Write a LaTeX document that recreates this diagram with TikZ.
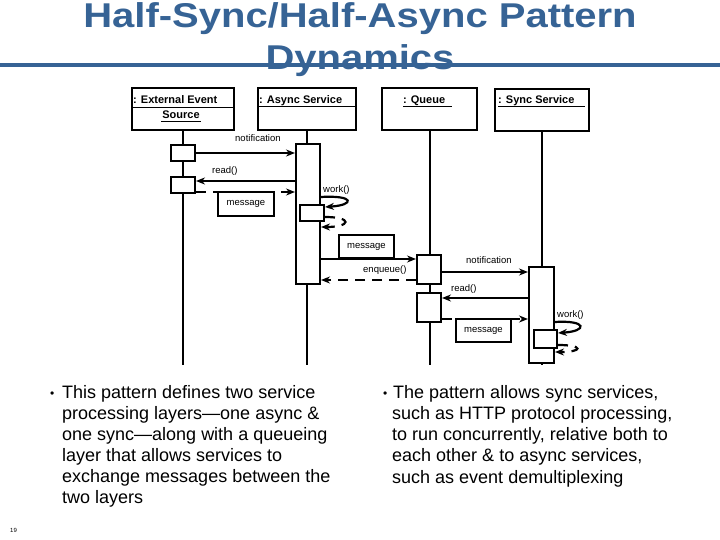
\documentclass[tikz,border=0pt]{standalone}
\usepackage{fontspec}
\setmainfont{Liberation Sans}
\usetikzlibrary{arrows.meta,calc}
\definecolor{titleblue}{RGB}{54,99,149}
\begin{document}
\begin{tikzpicture}[x=1pt,y=-1pt,
  titletxt/.style={font=\bfseries\fontsize{40}{42}\selectfont,text=titleblue,inner sep=0pt},
  objbox/.style={draw,line width=2.2pt,fill=white,inner sep=0pt},
  actbox/.style={draw,line width=2pt,fill=white,inner sep=0pt},
  notebox/.style={draw,line width=2pt,fill=white,inner sep=0pt,font=\fontsize{9.5}{10}\selectfont},
  life/.style={line width=2pt},
  msg/.style={line width=2.2pt,-{Stealth[length=9pt,width=7pt]}},
  ret/.style={msg,dash pattern=on 10pt off 7pt},
  lbl/.style={font=\fontsize{9.5}{10}\selectfont,inner sep=0pt,anchor=base west},
  objtxt/.style={font=\bfseries\fontsize{11}{12}\selectfont,inner sep=0pt},
  body/.style={font=\fontsize{18}{21.6}\selectfont,inner sep=0pt,anchor=base west},
  bul/.style={font=\fontsize{12}{14}\selectfont,inner sep=0pt,anchor=base west},
  uline/.style={line width=1.3pt}]
\useasboundingbox (0,0) rectangle (720,540);

% title
\coordinate (rl) at (0,65);
\coordinate (rr) at (720,65);
\draw[titleblue,line width=4pt] (rl) -- (rr);
\node[titletxt,anchor=base] (t1) at (360,28) {\scalebox{1}[0.86]{Half-Sync/Half-Async Pattern}};
\node[titletxt,anchor=base] (t2) at (360,70) {\scalebox{1}[0.86]{Dynamics}};

% objects
\node[objbox,minimum width=102pt,minimum height=42pt] (o1) at (183,109) {};
\node[objbox,minimum width=98pt,minimum height=42pt] (o2) at (307,109) {};
\node[objbox,minimum width=95pt,minimum height=42pt] (o3) at (429.5,109) {};
\node[objbox,minimum width=94pt,minimum height=42pt] (o4) at (542,110) {};

\node[objtxt,anchor=base west] (o1a) at (133,104) {: External Event};
\node[objtxt,anchor=base] (o1b) at (181,118.5) {Source};
\node[objtxt,anchor=base west] (o2a) at (259,104) {: Async Service};
\node[objtxt,anchor=base west] (o3a) at (403,104) {: Queue};
\node[objtxt,anchor=base west] (o4a) at (498,104) {: Sync Service};
\coordinate (u1a) at (133,107.5); \coordinate (u1b) at (233,107.5);
\coordinate (u2a) at (161,121.5); \coordinate (u2b) at (201,121.5);
\coordinate (u3a) at (258,106.5); \coordinate (u3b) at (355,106.5);
\coordinate (u4a) at (403,106.5); \coordinate (u4b) at (452,106.5);
\coordinate (u5a) at (498,106.5); \coordinate (u5b) at (585,106.5);
\draw[uline] (u1a) -- (u1b);
\draw[uline] (u2a) -- (u2b);
\draw[uline] (u3a) -- (u3b);
\draw[uline] (u4a) -- (u4b);
\draw[uline] (u5a) -- (u5b);

% lifelines
\coordinate (e1) at (183,365);
\coordinate (e2) at (307,365);
\coordinate (e3) at (429.5,365);
\coordinate (e4) at (542,365);
\draw[life] (o1.south) -- (e1);
\draw[life] (o2.south) -- (e2);
\draw[life] (o3.south) -- (e3);
\draw[life] (o4.south) -- (e4);

% activations
\node[actbox,minimum width=24pt,minimum height=16pt] (sa1) at (183,153) {};
\node[actbox,minimum width=24pt,minimum height=16pt] (sa2) at (183,185) {};
\node[actbox,minimum width=24pt,minimum height=140pt] (a2) at (308,214) {};
\node[actbox,minimum width=24pt,minimum height=16pt] (n2) at (312,213) {};
\node[actbox,minimum width=24pt,minimum height=29pt] (q1) at (429,269.5) {};
\node[actbox,minimum width=24pt,minimum height=29pt] (q2) at (429,307.5) {};
\node[actbox,minimum width=25pt,minimum height=96pt] (s4) at (541.5,315) {};
\node[actbox,minimum width=23pt,minimum height=18pt] (n4) at (545.5,339) {};

% message label boxes
\node[notebox,minimum width=56pt,minimum height=24pt] (mb1) at (246,204) {message};
\node[notebox,minimum width=55pt,minimum height=23pt] (mb2) at (366.5,246.5) {message};
\node[notebox,minimum width=55pt,minimum height=23pt] (mb3) at (483.5,330.5) {message};

% messages
\draw[msg] (sa1.east) -- (sa1.east -| a2.west);
\coordinate (r1) at ([yshift=4pt]sa2.east);
\draw[msg] (r1 -| a2.west) -- (r1);
\coordinate (d1) at ([yshift=-7pt]sa2.east);
\draw[ret] (d1) -- (d1 -| a2.west);

% work() on async
\draw[msg] ([yshift=17pt]a2.east) .. controls +(34,-2) and +(30,-2) .. ([yshift=6pt]n2.east);
\draw[ret] ([yshift=-4pt]n2.east) .. controls +(28,0) and +(30,0) .. ([yshift=-13pt]a2.east);

\coordinate (m5) at ([yshift=10.5pt]q1.west);
\draw[msg] (m5 -| a2.east) -- (m5);
\coordinate (en) at ([yshift=-10.5pt]q1.west);
\draw[ret] (en) -- (en -| a2.east);

\coordinate (n2c) at ([yshift=-2.5pt]q1.east);
\draw[msg] (n2c) -- (n2c -| s4.west);
\coordinate (r2) at ([yshift=9.5pt]q2.east);
\draw[msg] (r2 -| s4.west) -- (r2);
\coordinate (d2) at ([yshift=-11.5pt]q2.east);
\draw[ret] (d2) -- (d2 -| s4.west);

% work() on sync
\draw[msg] ([yshift=-7pt]s4.east) .. controls +(32,-2) and +(30,-2) .. ([yshift=6pt]n4.east);
\draw[ret] ([yshift=-6pt]n4.east) .. controls +(26,0) and +(28,0) .. ([yshift=-37pt]s4.east);

% labels
\node[lbl] (l1) at (235,142) {notification};
\node[lbl] (l2) at (212,174) {read()};
\node[lbl] (l3) at (323,193) {work()};
\node[lbl] (l4) at (363,272) {enqueue()};
\node[lbl] (l5) at (466,263) {notification};
\node[lbl] (l6) at (451,291) {read()};
\node[lbl] (l7) at (557,317) {work()};

% bottom text
\node[bul] (b1) at (50,397) {•};
\node[body] (p1) at (62,398) {This pattern defines two service};
\node[body] (p2) at (62,419) {processing layers—one async \&};
\node[body] (p3) at (62,440) {one sync—along with a queueing};
\node[body] (p4) at (62,461) {layer that allows services to};
\node[body] (p5) at (62,482) {exchange messages between the};
\node[body] (p6) at (62,503) {two layers};

\node[bul] (b2) at (383,397) {•};
\node[body] (q1t) at (393,398) {The pattern allows sync services,};
\node[body] (q2t) at (392,419.25) {such as HTTP protocol processing,};
\node[body] (q3t) at (392,440.5) {to run concurrently, relative both to};
\node[body] (q4t) at (392,461.75) {each other \& to async services,};
\node[body] (q5t) at (392,483) {such as event demultiplexing};

\node[font=\fontsize{6}{7}\selectfont,inner sep=0pt,anchor=base west] (pg) at (10,532) {19};
\end{tikzpicture}
\end{document}
